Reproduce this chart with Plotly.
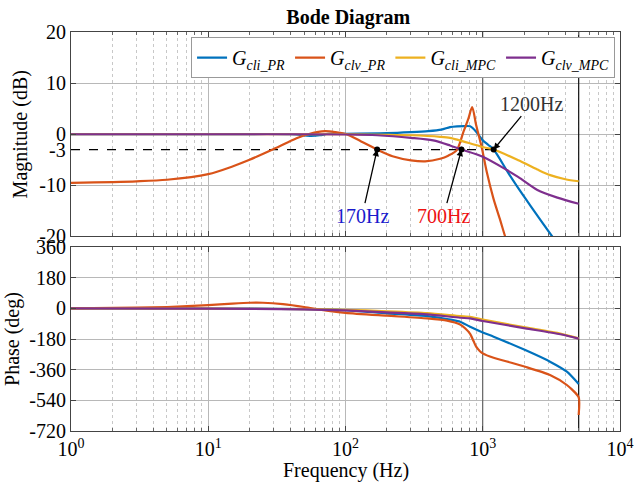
import math
import plotly.graph_objects as go

FONT = "Liberation Serif"

# ---------------- data ----------------
f_cli_pr_mag = [1, 10, 40, 55, 65, 75, 100, 200, 300, 400, 500, 578, 650, 745, 809, 895, 1000, 1100, 1200, 1538, 1820, 2215, 3206, 4000, 5000]
mag_cli_pr = [0, 0, 0, -0.3, -0.2, 0.1, 0.1, 0.2, 0.4, 0.6, 0.9, 1.4, 1.55, 1.6, 1.55, 0.5, -1.2, -2.1, -3.0, -7.6, -10.6, -13.9, -20, -23.7, -27.4]

f_clv_pr_mag = [1, 3, 5, 10, 15, 20, 30, 44, 55, 71, 85, 102, 130, 170, 220, 300, 380, 490, 560, 647, 724, 787, 837, 895, 985, 1070, 1197, 1340, 1456, 1700]
mag_clv_pr = [-9.5, -9.2, -8.9, -7.8, -6.3, -5.0, -2.9, -0.8, 0.1, 0.6, 0.4, 0.0, -1.4, -3.0, -4.3, -5.1, -5.3, -4.8, -4.2, -3.1, 0.5, 3.1, 5.3, 1.8, -2.7, -7.4, -12.6, -16.8, -20, -25]

f_cli_mpc_mag = [1, 100, 200, 300, 490, 578, 680, 1000, 1200, 1820, 2500, 3100, 4000, 5000]
mag_cli_mpc = [0, 0, -0.1, -0.2, -0.5, -0.7, -1.2, -2.5, -3.0, -5.1, -6.9, -8.0, -8.8, -9.2]

f_clv_mpc_mag = [1, 50, 100, 170, 300, 435, 578, 700, 1000, 1500, 1820, 2500, 3500, 5000]
mag_clv_mpc = [0, 0, -0.05, -0.2, -0.7, -1.2, -2.2, -3.0, -4.4, -7.0, -8.4, -10.9, -12.4, -13.6]

f_cli_pr_ph = [1, 10, 50, 100, 200, 394, 600, 684, 809, 1000, 1200, 2040, 3090, 4100, 5000]
ph_cli_pr = [0, -1, -4, -10, -29, -45, -68, -78, -108, -141, -166, -245, -313, -372, -444]

f_clv_pr_ph = [1, 3, 5, 10, 15, 20, 25, 35, 50, 57, 100, 200, 394, 550, 684, 750, 809, 860, 895, 950, 1000, 1200, 1590, 2040, 3090, 4100, 5000, 5000]
ph_clv_pr = [0, 4, 8, 19, 28, 33, 33, 25, 8, 0, -26, -43, -59, -72, -95, -120, -150, -195, -225, -250, -264, -290, -318, -343, -391, -450, -522, -626]

f_cli_mpc_ph = [1, 10, 50, 100, 200, 394, 684, 809, 1000, 2040, 3670, 5000]
ph_cli_mpc = [0, -1, -4, -8, -17, -28, -45, -49, -66, -112, -148, -176]

f_clv_mpc_ph = [1, 10, 50, 100, 200, 394, 684, 809, 1000, 2040, 3670, 5000]
ph_clv_mpc = [0, -2, -6, -12, -24, -35, -55, -59, -74, -117, -152, -178]

marked_freqs = [170, 700, 1200]
marked_db = [-3, -3, -3]

x_tickvals = [1, 10, 100, 1000, 10000]
x_ticktext = ["10<sup>0</sup>", "10<sup>1</sup>", "10<sup>2</sup>", "10<sup>3</sup>", "10<sup>4</sup>"]
x_minor_vals = [m * 10 ** d for d in range(4) for m in range(2, 10)]
mag_ticks = [-20, -10, 0, 10, 20]
mag_ticktext = ["-20", "-10", "0", "10", "20"]
ph_ticks = [-720, -540, -360, -180, 0, 180, 360]
ph_ticktext = ["-720", "-540", "-360", "-180", "0", "180", "360"]

series = [
    ("<i>G</i><sub><i>cli_PR</i></sub>", "#0072BD", f_cli_pr_mag, mag_cli_pr, f_cli_pr_ph, ph_cli_pr),
    ("<i>G</i><sub><i>clv_PR</i></sub>", "#D95319", f_clv_pr_mag, mag_clv_pr, f_clv_pr_ph, ph_clv_pr),
    ("<i>G</i><sub><i>cli_MPC</i></sub>", "#EDB120", f_cli_mpc_mag, mag_cli_mpc, f_cli_mpc_ph, ph_cli_mpc),
    ("<i>G</i><sub><i>clv_MPC</i></sub>", "#7E2F8E", f_clv_mpc_mag, mag_clv_mpc, f_clv_mpc_ph, ph_clv_mpc),
]

fig = go.Figure()

# reference lines (drawn first, under curves)
for yref_axis, yr in (("y", (-20, 20)), ("y2", (-720, 360))):
    xa = "x" if yref_axis == "y" else "x2"
    fig.add_trace(go.Scatter(x=[1000, 1000], y=list(yr), mode="lines", xaxis=xa, yaxis=yref_axis,
                             line=dict(color="#555555", width=1), showlegend=False, hoverinfo="skip"))
    fig.add_trace(go.Scatter(x=[5000, 5000], y=list(yr), mode="lines", xaxis=xa, yaxis=yref_axis,
                             line=dict(color="#111111", width=1.2), showlegend=False, hoverinfo="skip"))

fig.add_trace(go.Scatter(x=[1, 1200], y=[-3, -3], mode="lines", xaxis="x", yaxis="y",
                         line=dict(color="black", width=1.3, dash="dash"), showlegend=False, hoverinfo="skip"))

for name, color, fm, m, fp, p in series:
    fig.add_trace(go.Scatter(x=fm, y=m, mode="lines", name=name, xaxis="x", yaxis="y",
                             line=dict(color=color, width=2.2, shape="spline", smoothing=0.8)))
for name, color, fm, m, fp, p in series:
    fig.add_trace(go.Scatter(x=fp, y=p, mode="lines", name=name, xaxis="x2", yaxis="y2", showlegend=False,
                             line=dict(color=color, width=2.2, shape="spline", smoothing=0.6)))

fig.add_trace(go.Scatter(x=marked_freqs, y=marked_db, mode="markers", xaxis="x", yaxis="y",
                         marker=dict(color="black", size=6), showlegend=False, hoverinfo="skip"))

grid = "#b8b8b8"
mgrid = "#c8c8c8"
common_x = dict(type="log", range=[0, 4], showline=True, linecolor="#444444", linewidth=1, mirror="allticks",
                ticks="inside", ticklen=5, tickcolor="#444444", tickmode="array", tickvals=x_tickvals,
                showgrid=True, gridcolor=grid, gridwidth=1, automargin=False,
                minor=dict(tickmode="array", tickvals=x_minor_vals, ticks="inside", ticklen=3,
                           tickcolor="#666666", showgrid=True, gridcolor=mgrid, griddash="dot", gridwidth=1),
                zeroline=False)
common_y = dict(showline=True, linecolor="#444444", linewidth=1, mirror="allticks", ticks="inside", ticklen=5,
                tickcolor="#444444", showgrid=True, gridcolor=grid, gridwidth=1, zeroline=False,
                automargin=False, tickmode="array", tickfont=dict(family=FONT, size=20, color="black"))

fig.update_layout(
    width=639, height=485,
    margin=dict(l=71, r=19, t=32, b=54, autoexpand=False),
    paper_bgcolor="white", plot_bgcolor="white",
    font=dict(family=FONT, size=20, color="black"),
    xaxis=dict(common_x, domain=[0, 1], anchor="y", showticklabels=False, matches="x2"),
    yaxis=dict(common_y, domain=[0.4875, 1], range=[-20, 20], tickvals=mag_ticks, ticktext=mag_ticktext,
               title=dict(text="Magnitude (dB)", font=dict(family=FONT, size=20), standoff=6)),
    xaxis2=dict(common_x, domain=[0, 1], anchor="y2", ticktext=x_ticktext,
                tickfont=dict(family=FONT, size=20, color="black")),
    yaxis2=dict(common_y, domain=[0, 0.461], range=[-720, 360], tickvals=ph_ticks, ticktext=ph_ticktext,
                title=dict(text="Phase (deg)", font=dict(family=FONT, size=20), standoff=4)),
    title=dict(text="<b>Bode Diagram</b>", x=0.545, xanchor="center", y=0.965, yanchor="middle",
               font=dict(family=FONT, size=20, color="black")),
    legend=dict(orientation="h", x=0.991, xanchor="right", y=0.987, yanchor="top",
                bgcolor="white", bordercolor="#999999", borderwidth=1,
                font=dict(family=FONT, size=20), itemwidth=30, tracegroupgap=0),
    showlegend=True,
)

# x-axis title as annotation (tight to the tick labels, as in the reference)
fig.add_annotation(x=0.5, xref="paper", y=-0.098, yref="paper", text="Frequency (Hz)", showarrow=False,
                   xanchor="center", yanchor="middle", font=dict(family=FONT, size=20, color="black"))

# -3 tick label
fig.add_annotation(x=0, xref="paper", y=-3, yref="y", text="-3", showarrow=False, xanchor="right",
                   xshift=-3, font=dict(family=FONT, size=20, color="black"))

# frequency annotations
fig.add_annotation(x=math.log10(170), y=-3, xref="x", yref="y", text="170Hz", showarrow=True,
                   ax=-15, ay=66, arrowhead=2, arrowsize=1, arrowwidth=1.3, arrowcolor="black",
                   font=dict(family=FONT, size=20, color="#1a1acc"))
fig.add_annotation(x=math.log10(700), y=-3, xref="x", yref="y", text="700Hz", showarrow=True,
                   ax=-18, ay=66, arrowhead=2, arrowsize=1, arrowwidth=1.3, arrowcolor="black",
                   font=dict(family=FONT, size=20, color="#ee1111"))
fig.add_annotation(x=math.log10(1200), y=-3, xref="x", yref="y", text="1200Hz", showarrow=True,
                   ax=38, ay=-46, arrowhead=2, arrowsize=1, arrowwidth=1.3, arrowcolor="black",
                   font=dict(family=FONT, size=20, color="#333333"))

fig.write_html("out.html", config={"displayModeBar": False},
               post_script="document.body.style.margin='0';document.body.style.overflow='hidden';")
